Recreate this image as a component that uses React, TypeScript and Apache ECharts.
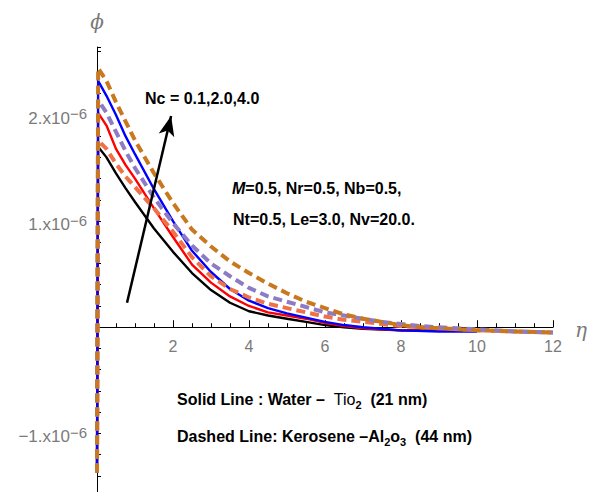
import React, { useEffect, useRef } from 'react';
import * as echarts from 'echarts';

// eta values (x) and phi values in units of 1e-6
const etaSolid = [0, 0.03, 0.25, 0.5, 0.75, 1, 1.5, 2, 2.5, 3, 3.5, 4, 4.5, 5, 5.5, 6, 6.5, 7, 8, 9, 10];
const solidBlack = [-1.37, 1.70, 1.60, 1.45, 1.31, 1.18, 0.93, 0.71, 0.51, 0.35, 0.23, 0.15, 0.11, 0.08, 0.05, 0.02, 0.0, -0.015, -0.03, -0.03, -0.03];
const solidRed = [-1.37, 2.02, 1.90, 1.68, 1.53, 1.40, 1.12, 0.85, 0.59, 0.42, 0.29, 0.20, 0.14, 0.11, 0.08, 0.04, 0.01, -0.01, -0.03, -0.035, -0.035];
const solidBlue = [-1.37, 2.32, 2.18, 2.00, 1.80, 1.63, 1.30, 1.00, 0.72, 0.52, 0.36, 0.25, 0.18, 0.13, 0.09, 0.05, 0.02, 0.0, -0.03, -0.04, -0.04];

const etaDashed = [0, 0.03, 0.25, 0.5, 0.75, 1, 1.5, 2, 2.5, 3, 3.5, 4, 4.5, 5, 5.5, 6, 6.5, 7, 7.5, 8, 8.5, 9, 10, 11, 12];
const dashedCoral = [-1.37, 1.76, 1.68, 1.54, 1.42, 1.32, 1.12, 0.90, 0.66, 0.48, 0.36, 0.28, 0.22, 0.18, 0.14, 0.10, 0.07, 0.05, 0.03, 0.01, 0.0, -0.01, -0.03, -0.04, -0.05];
const dashedPurple = [-1.37, 2.14, 2.02, 1.84, 1.66, 1.50, 1.22, 0.98, 0.77, 0.60, 0.48, 0.37, 0.29, 0.24, 0.19, 0.14, 0.11, 0.08, 0.05, 0.03, 0.01, 0.0, -0.02, -0.04, -0.05];
const dashedOrange = [-1.37, 2.44, 2.32, 2.12, 1.94, 1.76, 1.45, 1.17, 0.92, 0.76, 0.62, 0.51, 0.41, 0.32, 0.24, 0.18, 0.12, 0.08, 0.05, 0.02, 0.0, -0.01, -0.03, -0.04, -0.05];

// arrow (Nc increasing) in data coordinates
const arrowStart = [0.79, 0.23];
const arrowEnd = [1.95, 1.99];

const yTickLabels = [-1, 1, 2];
const Y_MIN = -1.6;
const Y_MAX = 2.64;

const pair = (xs: number[], ys: number[]) => xs.map((x, i) => [x, ys[i]]);

export default function App() {
  const ref = useRef<HTMLDivElement>(null);
  useEffect(() => {
    if (!ref.current) return;
    const chart = echarts.init(ref.current, undefined, { renderer: 'svg' });
    const solid = (name: string, xs: number[], ys: number[], color: string) => ({
      name, type: 'line', data: pair(xs, ys), showSymbol: false, symbol: 'none',
      lineStyle: { color, width: 2.4 }, silent: true,
    });
    const dashed = (name: string, xs: number[], ys: number[], color: string) => ({
      name, type: 'line', data: pair(xs, ys), showSymbol: false, symbol: 'none',
      lineStyle: { color, width: 4, type: [9, 5] }, silent: true,
    });
    const bold = { fontFamily: 'Liberation Sans, Arial, sans-serif', fontWeight: 'bold', fontSize: 16, fill: '#000' };
    const richLine = {
      b: { fontFamily: 'Liberation Sans', fontWeight: 'bold', fontSize: 16, color: '#000', lineHeight: 22 },
      n: { fontFamily: 'Liberation Sans', fontWeight: 'normal', fontSize: 16, color: '#000', lineHeight: 22 },
      sub: { fontFamily: 'Liberation Sans', fontWeight: 'bold', fontSize: 11, color: '#000', lineHeight: 12, verticalAlign: 'bottom', padding: [8, 0, 0, 0] },
      it: { fontFamily: 'Liberation Sans', fontWeight: 'bold', fontStyle: 'italic', fontSize: 16, color: '#000', lineHeight: 22 },
    };
    const gridTop = 47;
    const gridHeight = 450;
    const zeroOffset = -gridHeight * (0 - Y_MIN) / (Y_MAX - Y_MIN);
    chart.setOption({
      animation: false,
      grid: { left: 97, right: 39, top: gridTop, height: gridHeight, outerBoundsMode: 'none', containLabel: false },
      xAxis: [
        {
          type: 'value', min: 0, max: 12, interval: 2,
          axisLine: { onZero: true, lineStyle: { color: '#000', width: 1 } },
          axisTick: { show: true, inside: true, length: 7, lineStyle: { color: '#000' } },
          minorTick: { show: true, splitNumber: 4, length: 4, lineStyle: { color: '#000' } },
          splitLine: { show: false },
          axisLabel: { show: false },
        },
        {
          type: 'value', min: 0, max: 12, interval: 2, position: 'bottom', offset: zeroOffset,
          axisLine: { show: false, onZero: false },
          axisTick: { show: false },
          splitLine: { show: false },
          axisLabel: {
            margin: 11, color: '#7a7a7a', fontSize: 16, fontFamily: 'Liberation Sans',
            formatter: (v: number) => (v > 0 ? String(v) : ''),
          },
        },
      ],
      yAxis: {
        type: 'value', min: Y_MIN, max: Y_MAX, interval: 0.2,
        axisLine: { show: true, lineStyle: { color: '#000', width: 1 } },
        axisTick: { show: true, inside: true, length: 4, lineStyle: { color: '#000' } },
        splitLine: { show: false },
        axisLabel: {
          margin: 10, color: '#7a7a7a', fontSize: 17, fontFamily: 'Liberation Sans',
          formatter: (v: number) => {
            const r = Math.round(v);
            if (Math.abs(v - r) > 1e-6 || !yTickLabels.includes(r)) return '';
            return `{b|${r < 0 ? '\u2212' + Math.abs(r) : r}.x10}{sup|\u22126}`;
          },
          rich: {
            b: { fontSize: 17, color: '#7a7a7a', fontFamily: 'Liberation Sans', lineHeight: 17, padding: [7, 0, 0, 0] },
            sup: { fontSize: 15, color: '#7a7a7a', fontFamily: 'Liberation Sans', lineHeight: 15, verticalAlign: 'top' },
          },
        },
      },
      series: [
        solid('Nc=0.1 water', etaSolid, solidBlack, '#000000'),
        solid('Nc=2.0 water', etaSolid, solidRed, '#ff0000'),
        solid('Nc=4.0 water', etaSolid, solidBlue, '#0000ff'),
        dashed('Nc=0.1 kerosene', etaDashed, dashedCoral, '#ee7148'),
        dashed('Nc=2.0 kerosene', etaDashed, dashedPurple, '#8c7cc4'),
        {
          ...dashed('Nc=4.0 kerosene', etaDashed, dashedOrange, '#c8781e'),
          markLine: {
            silent: true, animation: false,
            symbol: ['none', 'arrow'], symbolSize: [12, 20],
            label: { show: false },
            lineStyle: { color: '#000', width: 2.5, type: 'solid' },
            emphasis: { disabled: true },
            data: [[{ coord: arrowStart }, { coord: arrowEnd }]],
          },
        },
      ],
      graphic: [
        { type: 'text', x: 97, y: 22, style: { text: 'ϕ', fontFamily: 'DejaVu Serif', fontStyle: 'italic', fontSize: 20, fill: '#7a7a7a', align: 'center', verticalAlign: 'middle' } },
        { type: 'text', x: 581, y: 330, style: { text: 'η', fontFamily: 'DejaVu Serif', fontStyle: 'italic', fontSize: 20, fill: '#7a7a7a', align: 'center', verticalAlign: 'middle' } },
        { type: 'text', x: 145, y: 98, style: { ...bold, text: 'Nc = 0.1,2.0,4.0', verticalAlign: 'middle' } },
        { type: 'text', x: 232, y: 188, style: { text: '{it|M}{b|=0.5, Nr=0.5, Nb=0.5,}', rich: richLine, verticalAlign: 'middle' } },
        { type: 'text', x: 233, y: 219, style: { ...bold, text: 'Nt=0.5, Le=3.0, Nv=20.0.', verticalAlign: 'middle' } },
        { type: 'text', x: 177, y: 399, style: { text: '{b|Solid Line : Water \u2013  }{n|Tio}{sub|2}{b|  (21 nm)}', rich: richLine, verticalAlign: 'middle' } },
        { type: 'text', x: 177, y: 436, style: { text: '{b|Dashed Line: Kerosene \u2013}{b|Al}{sub|2}{b|o}{sub|3}{b|  (44 nm)}', rich: richLine, verticalAlign: 'middle' } },
      ],
    });
    return () => chart.dispose();
  }, []);
  return <div ref={ref} style={{ position: 'fixed', left: 0, top: 0, width: 592, height: 492, background: '#fff' }} />;
}
